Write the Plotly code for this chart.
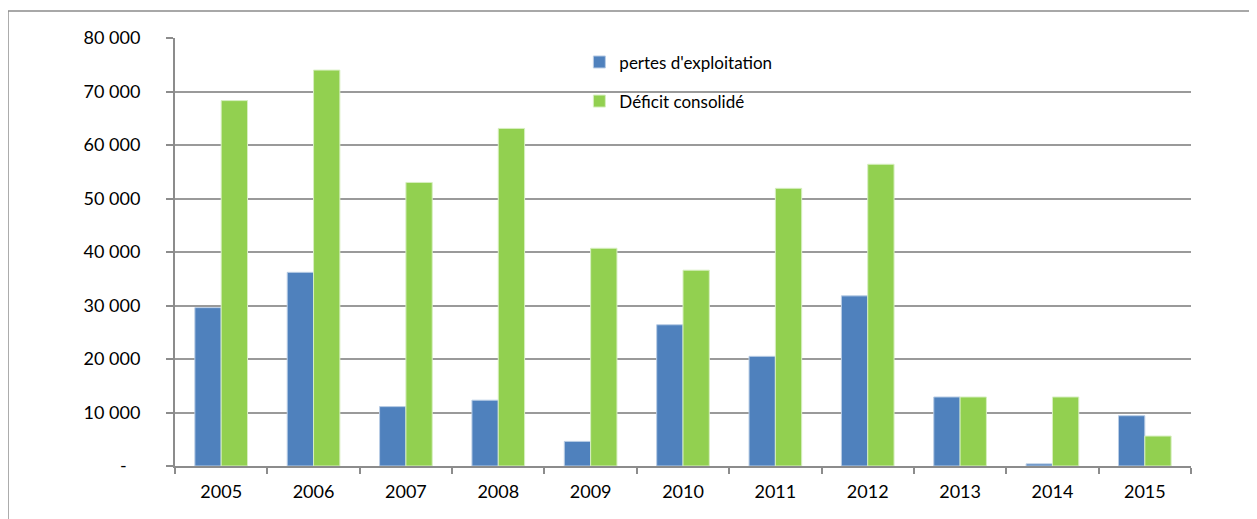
import plotly.graph_objects as go

# === Data ===
years = ["2005", "2006", "2007", "2008", "2009", "2010", "2011", "2012", "2013", "2014", "2015"]
pertes = [29600, 36200, 11100, 12300, 4600, 26400, 20500, 31800, 12900, 400, 9400]
deficit = [68300, 74000, 53000, 63100, 40700, 36600, 51900, 56400, 12900, 12900, 5600]

y_ticks = [0, 10000, 20000, 30000, 40000, 50000, 60000, 70000, 80000]
y_labels = ["-\u00a0\u00a0\u00a0", "10 000", "20 000", "30 000", "40 000", "50 000", "60 000", "70 000", "80 000"]

font_family = "Lato, 'Open Sans', sans-serif"
axis_grey = "#8c8c8c"

fig = go.Figure()

fig.add_trace(go.Bar(
    x=years, y=pertes, name="pertes d'exploitation", legendgroup="a",
    marker=dict(color="#4F81BD", line=dict(color="#b9cde5", width=1)),
))
fig.add_trace(go.Bar(
    x=years, y=deficit, name="Déficit consolidé", legendgroup="b",
    marker=dict(color="#92D050", line=dict(color="#d7efc0", width=1)),
))

# outer chart border
fig.add_shape(type="rect", xref="paper", yref="paper",
              x0=-0.1644, y0=-0.2, x1=1.1, y1=1.0631,
              line=dict(color="#8c8c8c", width=1.5), fillcolor="rgba(0,0,0,0)")

fig.update_layout(
    width=1249, height=511,
    margin=dict(l=167, r=66, t=30, b=53),
    paper_bgcolor="white", plot_bgcolor="white",
    barmode="group", bargap=0.43, bargroupgap=0,
    font=dict(family=font_family, size=18, color="black"),
    legend=dict(
        x=0.398, y=0.985, xanchor="left", yanchor="top",
        bgcolor="rgba(0,0,0,0)", font=dict(size=17),
        tracegroupgap=14, traceorder="grouped",
        itemwidth=30,
    ),
    showlegend=True,
)

fig.update_xaxes(
    type="category", showline=True, linecolor=axis_grey, linewidth=2,
    ticks="outside", tickson="boundaries", ticklen=6, tickcolor=axis_grey, tickwidth=1.5,
    showgrid=False, ticklabelstandoff=8,
)
fig.update_yaxes(
    range=[0, 80000], tickvals=y_ticks, ticktext=y_labels,
    showline=True, linecolor=axis_grey, linewidth=2,
    ticks="outside", ticklen=7, tickcolor=axis_grey, tickwidth=1.5,
    showgrid=True, gridcolor="#9a9a9a", gridwidth=1.5,
    zeroline=False, ticklabelstandoff=22,
)

fig.write_html("out.html")
